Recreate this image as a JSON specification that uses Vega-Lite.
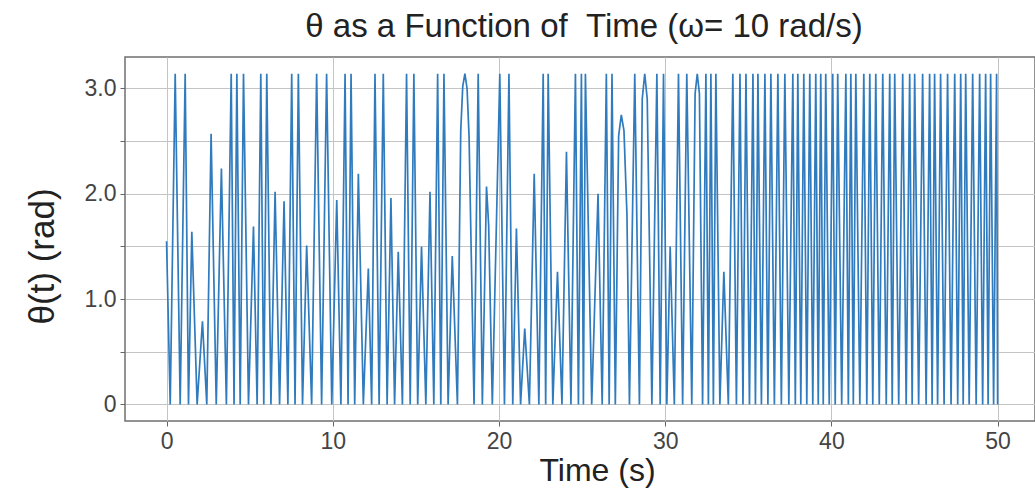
{
  "$schema": "https://vega.github.io/schema/vega-lite/v6.json",
  "width": 910,
  "height": 364,
  "autosize": {"type": "none"},
  "padding": {"left": 125, "top": 57, "right": 0, "bottom": 79},
  "background": "white",
  "title": {"text": "θ as a Function of \u00a0Time (ω= 10 rad/s)", "font": "Liberation Sans", "fontSize": 33, "fontWeight": "normal", "color": "#222222", "offset": 13, "anchor": "middle", "dx": 4},
  "config": {
    "view": {"stroke": "#6f6f6f", "strokeWidth": 1.5},
    "axis": {
      "labelFont": "Liberation Sans", "labelFontSize": 23, "labelColor": "#444444",
      "titleFont": "Liberation Sans", "titleFontSize": 32, "titleFontWeight": "normal", "titleColor": "#222222",
      "gridColor": "#c4c4c4", "gridWidth": 1, "domain": false,
      "tickColor": "#666666", "tickSize": 5, "tickWidth": 1, "labelPadding": 4
    }
  },
  "data": {"values": [
    {"t": 0, "theta": 1.55}, {"t": 0.22, "theta": 0},
    {"t": 0.52, "theta": 3.14}, {"t": 0.82, "theta": 0},
    {"t": 1.12, "theta": 3.14}, {"t": 1.32, "theta": 0},
    {"t": 1.52, "theta": 1.64}, {"t": 1.84, "theta": 0},
    {"t": 2.16, "theta": 0.79}, {"t": 2.42, "theta": 0},
    {"t": 2.68, "theta": 2.57}, {"t": 2.99, "theta": 0},
    {"t": 3.30, "theta": 2.24}, {"t": 3.60, "theta": 0},
    {"t": 3.89, "theta": 3.14}, {"t": 4.06, "theta": 0},
    {"t": 4.23, "theta": 3.14}, {"t": 4.43, "theta": 0},
    {"t": 4.63, "theta": 3.14}, {"t": 4.93, "theta": 0},
    {"t": 5.23, "theta": 1.69}, {"t": 5.45, "theta": 0},
    {"t": 5.67, "theta": 3.14}, {"t": 5.85, "theta": 0},
    {"t": 6.03, "theta": 3.14}, {"t": 6.28, "theta": 0},
    {"t": 6.53, "theta": 2.02}, {"t": 6.80, "theta": 0},
    {"t": 7.07, "theta": 1.93}, {"t": 7.30, "theta": 0},
    {"t": 7.53, "theta": 3.14}, {"t": 7.73, "theta": 0},
    {"t": 7.93, "theta": 3.14}, {"t": 8.18, "theta": 0},
    {"t": 8.43, "theta": 1.51}, {"t": 8.73, "theta": 0},
    {"t": 9.03, "theta": 3.14}, {"t": 9.33, "theta": 0},
    {"t": 9.63, "theta": 3.14}, {"t": 9.94, "theta": 0},
    {"t": 10.24, "theta": 1.94}, {"t": 10.49, "theta": 0},
    {"t": 10.74, "theta": 3.14}, {"t": 10.92, "theta": 0},
    {"t": 11.10, "theta": 3.14}, {"t": 11.32, "theta": 0},
    {"t": 11.54, "theta": 2.19}, {"t": 11.84, "theta": 0},
    {"t": 12.14, "theta": 1.29}, {"t": 12.34, "theta": 0},
    {"t": 12.54, "theta": 3.14}, {"t": 12.79, "theta": 0},
    {"t": 13.04, "theta": 3.14}, {"t": 13.27, "theta": 0},
    {"t": 13.50, "theta": 1.96}, {"t": 13.72, "theta": 0},
    {"t": 13.94, "theta": 1.45}, {"t": 14.19, "theta": 0},
    {"t": 14.44, "theta": 3.14}, {"t": 14.66, "theta": 0},
    {"t": 14.88, "theta": 3.14}, {"t": 15.11, "theta": 0},
    {"t": 15.34, "theta": 1.50}, {"t": 15.60, "theta": 0},
    {"t": 15.85, "theta": 2.02}, {"t": 16.08, "theta": 0},
    {"t": 16.31, "theta": 3.14}, {"t": 16.50, "theta": 0},
    {"t": 16.69, "theta": 3.14}, {"t": 16.94, "theta": 0},
    {"t": 17.19, "theta": 1.41}, {"t": 17.50, "theta": 0},
    {"t": 17.70, "theta": 2.6}, {"t": 17.82, "theta": 3.02}, {"t": 17.95, "theta": 3.14}, {"t": 18.08, "theta": 3.0}, {"t": 18.20, "theta": 2.55}, {"t": 18.50, "theta": 0},
    {"t": 18.75, "theta": 3.14}, {"t": 19.00, "theta": 0},
    {"t": 19.25, "theta": 2.07}, {"t": 19.38, "theta": 1.7}, {"t": 19.60, "theta": 0},
    {"t": 20.05, "theta": 3.14}, {"t": 20.33, "theta": 0},
    {"t": 20.60, "theta": 3.14}, {"t": 20.83, "theta": 0},
    {"t": 21.05, "theta": 1.67}, {"t": 21.30, "theta": 0},
    {"t": 21.55, "theta": 0.72}, {"t": 21.83, "theta": 0},
    {"t": 22.12, "theta": 2.19}, {"t": 22.40, "theta": 0},
    {"t": 22.66, "theta": 3.14}, {"t": 22.81, "theta": 0},
    {"t": 22.96, "theta": 3.14}, {"t": 23.24, "theta": 0},
    {"t": 23.52, "theta": 1.26}, {"t": 23.79, "theta": 0},
    {"t": 24.06, "theta": 2.40}, {"t": 24.33, "theta": 0},
    {"t": 24.60, "theta": 3.14}, {"t": 24.78, "theta": 0},
    {"t": 24.96, "theta": 3.14}, {"t": 25.08, "theta": 0},
    {"t": 25.20, "theta": 3.14}, {"t": 25.58, "theta": 0},
    {"t": 25.96, "theta": 2.00}, {"t": 26.21, "theta": 0},
    {"t": 26.46, "theta": 3.14}, {"t": 26.63, "theta": 0},
    {"t": 26.80, "theta": 3.14}, {"t": 27.00, "theta": 0},
    {"t": 27.20, "theta": 2.55}, {"t": 27.36, "theta": 2.75}, {"t": 27.52, "theta": 2.6}, {"t": 27.70, "theta": 1.8}, {"t": 27.85, "theta": 0},
    {"t": 28.17, "theta": 3.14}, {"t": 28.45, "theta": 0},
    {"t": 28.62, "theta": 2.9}, {"t": 28.77, "theta": 3.14}, {"t": 28.92, "theta": 2.9}, {"t": 29.20, "theta": 0},
    {"t": 29.50, "theta": 3.14}, {"t": 29.70, "theta": 0},
    {"t": 29.90, "theta": 3.14}, {"t": 30.10, "theta": 0},
    {"t": 30.30, "theta": 1.50}, {"t": 30.55, "theta": 0},
    {"t": 30.80, "theta": 3.14}, {"t": 31.05, "theta": 0},
    {"t": 31.30, "theta": 3.14}, {"t": 31.60, "theta": 0},
    {"t": 31.80, "theta": 2.95}, {"t": 31.93, "theta": 3.14}, {"t": 32.06, "theta": 2.95}, {"t": 32.25, "theta": 0},
    {"t": 32.45, "theta": 3.14}, {"t": 32.60, "theta": 0},
    {"t": 32.75, "theta": 3.14}, {"t": 32.90, "theta": 0},
    {"t": 33.05, "theta": 3.14}, {"t": 33.29, "theta": 0},
    {"t": 33.53, "theta": 1.26}, {"t": 33.80, "theta": 0},
    {"t": 34.07, "theta": 3.14}, {"t": 34.285, "theta": 0},
    {"t": 34.50, "theta": 3.14}, {"t": 34.68, "theta": 0},
    {"t": 34.86, "theta": 3.14}, {"t": 35.07, "theta": 0},
    {"t": 35.28, "theta": 3.14}, {"t": 35.43, "theta": 0},
    {"t": 35.58, "theta": 3.14}, {"t": 35.79, "theta": 0},
    {"t": 36.00, "theta": 3.14}, {"t": 36.18, "theta": 0},
    {"t": 36.36, "theta": 3.14}, {"t": 36.57, "theta": 0},
    {"t": 36.78, "theta": 3.14}, {"t": 36.99, "theta": 0},
    {"t": 37.20, "theta": 3.14}, {"t": 37.44, "theta": 0},
    {"t": 37.68, "theta": 3.14}, {"t": 37.83, "theta": 0},
    {"t": 37.98, "theta": 3.14}, {"t": 38.16, "theta": 0},
    {"t": 38.34, "theta": 3.14}, {"t": 38.52, "theta": 0},
    {"t": 38.70, "theta": 3.14}, {"t": 38.88, "theta": 0},
    {"t": 39.06, "theta": 3.14}, {"t": 39.21, "theta": 0},
    {"t": 39.36, "theta": 3.14}, {"t": 39.51, "theta": 0},
    {"t": 39.66, "theta": 3.14}, {"t": 39.87, "theta": 0},
    {"t": 40.08, "theta": 3.14}, {"t": 40.23, "theta": 0},
    {"t": 40.38, "theta": 3.14}, {"t": 40.62, "theta": 0},
    {"t": 40.87, "theta": 3.14}, {"t": 41.02, "theta": 0},
    {"t": 41.17, "theta": 3.14}, {"t": 41.32, "theta": 0},
    {"t": 41.47, "theta": 3.14}, {"t": 41.71, "theta": 0},
    {"t": 41.95, "theta": 3.14}, {"t": 42.13, "theta": 0},
    {"t": 42.31, "theta": 3.14}, {"t": 42.49, "theta": 0},
    {"t": 42.67, "theta": 3.14}, {"t": 42.88, "theta": 0},
    {"t": 43.09, "theta": 3.14}, {"t": 43.30, "theta": 0},
    {"t": 43.51, "theta": 3.14}, {"t": 43.66, "theta": 0},
    {"t": 43.81, "theta": 3.14}, {"t": 44.05, "theta": 0},
    {"t": 44.29, "theta": 3.14}, {"t": 44.50, "theta": 0},
    {"t": 44.71, "theta": 3.14}, {"t": 44.86, "theta": 0},
    {"t": 45.01, "theta": 3.14}, {"t": 45.25, "theta": 0},
    {"t": 45.49, "theta": 3.14}, {"t": 45.70, "theta": 0},
    {"t": 45.91, "theta": 3.14}, {"t": 46.06, "theta": 0},
    {"t": 46.21, "theta": 3.14}, {"t": 46.39, "theta": 0},
    {"t": 46.57, "theta": 3.14}, {"t": 46.78, "theta": 0},
    {"t": 46.99, "theta": 3.14}, {"t": 47.20, "theta": 0},
    {"t": 47.42, "theta": 3.14}, {"t": 47.60, "theta": 0},
    {"t": 47.78, "theta": 3.14}, {"t": 47.93, "theta": 0},
    {"t": 48.08, "theta": 3.14}, {"t": 48.29, "theta": 0},
    {"t": 48.50, "theta": 3.14}, {"t": 48.71, "theta": 0},
    {"t": 48.92, "theta": 3.14}, {"t": 49.10, "theta": 0},
    {"t": 49.28, "theta": 3.14}, {"t": 49.43, "theta": 0},
    {"t": 49.58, "theta": 3.14}, {"t": 49.76, "theta": 0},
    {"t": 49.94, "theta": 3.14}, {"t": 50.00, "theta": 0}
  ]},
  "mark": {"type": "line", "color": "#2f7bbd", "strokeWidth": 1.7, "clip": true},
  "encoding": {
    "x": {
      "field": "t", "type": "quantitative",
      "scale": {"domain": [-2.5, 52.25], "nice": false, "zero": false},
      "axis": {"values": [0, 10, 20, 30, 40, 50], "title": "Time (s)", "titleX": 472, "titleY": 59, "titleBaseline": "alphabetic"}
    },
    "y": {
      "field": "theta", "type": "quantitative",
      "scale": {"domain": [-0.157, 3.299], "nice": false, "zero": false},
      "axis": {"values": [0, 0.5, 1, 1.5, 2, 2.5, 3], "labelExpr": "datum.value == 0 ? '0' : (datum.value % 1 == 0 ? format(datum.value, '.1f') : '')", "title": "θ(t) (rad)", "titleX": -83, "titleY": 199, "titleBaseline": "middle", "titleFontSize": 35}
    }
  }
}
